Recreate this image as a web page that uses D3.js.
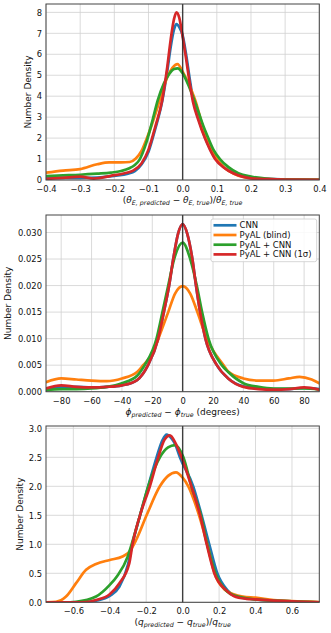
<!DOCTYPE html>
<meta charset="utf-8">
<style>
    body { margin: 0; background: #fff; }
    text { font-family: "DejaVu Sans", sans-serif; fill: #111; }
    .grid line { stroke: #d0d0d0; stroke-width: 0.8px; }
    .frame { fill: none; stroke: #444; stroke-width: 1px; }
    .tick text { font-size: 8.4px; }
</style>
<svg id="chart" width="331" height="633"></svg>
<script src="https://d3js.org/d3.v7.min.js"></script>
<script>

    var seriesNames = ["CNN", "PyAL (blind)", "PyAL + CNN", "PyAL + CNN (1\u03c3)"];
    var colors = ["#1f77b4", "#ff7f0e", "#2ca02c", "#d62728"];

    // panel 1 : fractional error on theta_E
    var thetaCNN = [[-0.4,0.12],[-0.35,0.1],[-0.3,0.1],[-0.25,0.12],[-0.2,0.2],[-0.16,0.3],[-0.14,0.42],[-0.12,0.75],[-0.1,1.35],[-0.08,2.45],[-0.06,3.75],[-0.045,5.2],[-0.035,6.35],[-0.025,7.2],[-0.018,7.44],[-0.01,7.3],[0,6.9],[0.01,6.0],[0.02,4.9],[0.03,3.9],[0.046,2.95],[0.065,2.05],[0.08,1.5],[0.095,1.05],[0.12,0.62],[0.148,0.34],[0.175,0.18],[0.2,0.1],[0.25,0.05],[0.3,0.03],[0.4,0.01]];
    var thetaPyAL = [[-0.4,0.35],[-0.35,0.45],[-0.3,0.52],[-0.25,0.75],[-0.215,0.84],[-0.18,0.84],[-0.155,0.86],[-0.137,1.03],[-0.12,1.4],[-0.107,1.9],[-0.09,2.65],[-0.075,3.4],[-0.06,4.2],[-0.045,4.9],[-0.03,5.35],[-0.015,5.53],[0,5.17],[0.02,4.5],[0.041,3.6],[0.055,2.75],[0.07,2.0],[0.085,1.45],[0.1,1.0],[0.125,0.55],[0.15,0.3],[0.18,0.14],[0.2,0.09],[0.25,0.04],[0.3,0.02],[0.4,0.01]];
    var thetaBoth = [[-0.4,0.19],[-0.35,0.22],[-0.3,0.25],[-0.25,0.3],[-0.21,0.35],[-0.18,0.43],[-0.156,0.56],[-0.14,0.72],[-0.127,0.95],[-0.107,1.75],[-0.088,2.86],[-0.073,3.8],[-0.055,4.6],[-0.04,5.05],[-0.025,5.3],[-0.015,5.33],[0,5.1],[0.02,4.4],[0.04,3.55],[0.06,2.6],[0.075,2.0],[0.09,1.45],[0.109,1.0],[0.135,0.6],[0.163,0.32],[0.2,0.16],[0.25,0.06],[0.3,0.03],[0.4,0.01]];
    var thetaSigma = [[-0.4,0.05],[-0.35,0.1],[-0.3,0.16],[-0.26,0.07],[-0.21,0.2],[-0.17,0.32],[-0.145,0.45],[-0.12,0.8],[-0.1,1.45],[-0.08,2.55],[-0.06,3.8],[-0.045,5.4],[-0.035,6.7],[-0.025,7.7],[-0.018,8.0],[-0.01,7.75],[0,6.84],[0.01,5.8],[0.02,4.7],[0.03,3.75],[0.046,2.86],[0.065,2.0],[0.08,1.45],[0.095,1.0],[0.12,0.6],[0.148,0.32],[0.175,0.16],[0.2,0.08],[0.25,0.04],[0.3,0.02],[0.4,0.01]];

    // panel 2 : error on phi (degrees)
    var phiCNN = [[-90,0.0004],[-80,0.0008],[-70,0.0009],[-60,0.0008],[-50,0.0009],[-40,0.0012],[-30,0.0022],[-22.8,0.005],[-16.1,0.010],[-12.4,0.015],[-8.9,0.020],[-6.2,0.025],[-3,0.0298],[0,0.0316],[3,0.0298],[6.4,0.025],[8.8,0.020],[11.5,0.015],[15,0.010],[22.5,0.005],[30,0.0025],[40,0.001],[50,0.0006],[60,0.0005],[70,0.0005],[80,0.0007],[90,0.0005]];
    var phiPyAL = [[-90,0.0018],[-80,0.0025],[-70,0.0023],[-60,0.0021],[-50,0.002],[-40,0.0025],[-30,0.0037],[-26,0.005],[-20,0.0072],[-16,0.010],[-9.5,0.015],[-5,0.0185],[0,0.0199],[5,0.0185],[9.7,0.015],[15.9,0.010],[20,0.0078],[27,0.005],[30,0.0038],[40,0.0025],[50,0.0021],[60,0.0021],[70,0.0025],[77,0.0028],[85,0.0023],[90,0.0016]];
    var phiBoth = [[-90,0.0003],[-80,0.0005],[-70,0.0005],[-60,0.0006],[-50,0.0009],[-40,0.0016],[-30,0.003],[-25,0.005],[-17.2,0.010],[-13.3,0.015],[-9.5,0.020],[-5.6,0.025],[0,0.0281],[5,0.025],[9.3,0.020],[12.8,0.015],[17,0.010],[25.8,0.005],[30,0.0037],[40,0.0016],[50,0.0009],[60,0.0006],[70,0.0006],[80,0.0006],[90,0.0004]];
    var phiSigma = [[-90,0.0006],[-80,0.0012],[-70,0.0009],[-60,0.0008],[-50,0.0009],[-40,0.0012],[-30,0.0022],[-22.8,0.005],[-16.1,0.010],[-12.4,0.015],[-8.9,0.020],[-6.2,0.025],[-3,0.0298],[0,0.0316],[3,0.0298],[6.4,0.025],[8.8,0.020],[11.5,0.015],[15,0.010],[22.5,0.005],[30,0.0025],[40,0.0009],[50,0.0005],[60,0.0004],[70,0.0005],[80,0.0008],[90,0.0004]];

    // panel 3 : fractional error on q
    var qCNN = [[-0.75,0],[-0.6,0],[-0.53,0.005],[-0.475,0.03],[-0.4,0.11],[-0.347,0.27],[-0.3,0.65],[-0.28,0.95],[-0.234,1.5],[-0.189,2.0],[-0.143,2.5],[-0.11,2.8],[-0.088,2.89],[-0.06,2.82],[-0.04,2.72],[-0.015,2.5],[0.058,2.0],[0.104,1.5],[0.146,1.0],[0.19,0.5],[0.245,0.21],[0.28,0.12],[0.35,0.07],[0.4,0.05],[0.5,0.03],[0.6,0.015],[0.75,0]];
    var qPyAL = [[-0.75,0],[-0.695,0.01],[-0.64,0.1],[-0.585,0.33],[-0.53,0.56],[-0.475,0.66],[-0.4,0.73],[-0.33,0.79],[-0.293,0.87],[-0.256,1.07],[-0.198,1.5],[-0.125,2.0],[-0.08,2.18],[-0.037,2.24],[0,2.15],[0.031,2.0],[0.09,1.5],[0.135,1.0],[0.175,0.5],[0.23,0.22],[0.28,0.14],[0.33,0.1],[0.4,0.08],[0.5,0.04],[0.6,0.02],[0.7,0.01],[0.75,0.005]];
    var qBoth = [[-0.75,0],[-0.65,0],[-0.585,0.01],[-0.475,0.1],[-0.4,0.3],[-0.36,0.45],[-0.3,0.8],[-0.28,1.0],[-0.234,1.5],[-0.189,2.0],[-0.125,2.5],[-0.08,2.67],[-0.042,2.71],[0.004,2.5],[0.048,2.0],[0.1,1.5],[0.135,1.0],[0.18,0.5],[0.24,0.2],[0.28,0.12],[0.4,0.05],[0.5,0.03],[0.6,0.015],[0.75,0]];
    var qSigma = [[-0.75,0],[-0.6,0],[-0.53,0.005],[-0.475,0.04],[-0.4,0.14],[-0.347,0.33],[-0.293,0.67],[-0.275,1.0],[-0.234,1.5],[-0.18,2.0],[-0.134,2.5],[-0.1,2.8],[-0.07,2.88],[-0.04,2.75],[-0.006,2.5],[0.048,2.0],[0.096,1.5],[0.132,1.0],[0.174,0.5],[0.238,0.21],[0.28,0.11],[0.35,0.06],[0.4,0.05],[0.5,0.03],[0.6,0.015],[0.75,0]];

    var thetaXTicks = [-0.4,-0.3,-0.2,-0.1,0,0.1,0.2,0.3,0.4];
    var thetaYTicks = [0,1,2,3,4,5,6,7,8];
    var phiXTicks = [-80,-60,-40,-20,0,20,40,60,80];
    var phiYTicks = [0,0.005,0.01,0.015,0.02,0.025,0.03];
    var qXTicks = [-0.6,-0.4,-0.2,0,0.2,0.4,0.6];
    var qYTicks = [0,0.5,1,1.5,2,2.5,3];

    var svg = d3.select("#chart");

    var panels = [
        {top: 4, bottom: 180, xdom: [-0.4, 0.4], ydom: [0, 8.4],
         xticks: thetaXTicks, yticks: thetaYTicks, xfmt: ".1f", yfmt: "d",
         series: [thetaCNN, thetaPyAL, thetaBoth, thetaSigma], ylabelX: 28, xlabelY: 203,
         xlabel: [["(",0],["\u03b8",1],["E, predicted",2],[" \u2212 ",0],["\u03b8",1],["E, true",2],[")/",0],["\u03b8",1],["E, true",2]]},
        {top: 215, bottom: 391.7, xdom: [-90, 90], ydom: [0, 0.0333],
         xticks: phiXTicks, yticks: phiYTicks, xfmt: "d", yfmt: ".3f",
         series: [phiCNN, phiPyAL, phiBoth, phiSigma], ylabelX: 8, xlabelY: 414.5, legend: true,
         xlabel: [["\u03d5",1],["predicted",2],[" \u2212 ",0],["\u03d5",1],["true",2],[" (degrees)",0]]},
        {top: 426, bottom: 602.3, xdom: [-0.75, 0.75], ydom: [0, 3.04],
         xticks: qXTicks, yticks: qYTicks, xfmt: ".1f", yfmt: ".1f",
         series: [qCNN, qPyAL, qBoth, qSigma], ylabelX: 20, xlabelY: 625,
         xlabel: [["(",0],["q",1],["predicted",2],[" \u2212 ",0],["q",1],["true",2],[")/",0],["q",1],["true",2]]}
    ];

    var left = 46, right = 319.3;

    panels.forEach(function(p, i) {
        var x = d3.scaleLinear().domain(p.xdom).range([left, right]);
        var y = d3.scaleLinear().domain(p.ydom).range([p.bottom, p.top]);
        var g = svg.append("g");

        g.append("clipPath").attr("id", "clip" + i)
            .append("rect")
            .attr("x", left).attr("y", p.top)
            .attr("width", right - left).attr("height", p.bottom - p.top);

        // grid
        var grid = g.append("g").attr("class", "grid");
        grid.selectAll(".vx").data(p.xticks).enter().append("line")
            .attr("x1", d => x(d)).attr("x2", d => x(d))
            .attr("y1", p.top).attr("y2", p.bottom);
        grid.selectAll(".hy").data(p.yticks).enter().append("line")
            .attr("x1", left).attr("x2", right)
            .attr("y1", d => y(d)).attr("y2", d => y(d));

        // axes
        var xAxis = g.append("g")
            .attr("transform", "translate(0," + p.bottom + ")")
            .call(d3.axisBottom(x).tickValues(p.xticks).tickFormat(d3.format(p.xfmt)).tickSize(0).tickPadding(6));
        var yAxis = g.append("g")
            .attr("transform", "translate(" + left + ",0)")
            .call(d3.axisLeft(y).tickValues(p.yticks).tickFormat(d3.format(p.yfmt)).tickSize(0).tickPadding(4));
        xAxis.select(".domain").remove();
        yAxis.select(".domain").remove();
        xAxis.selectAll("text").attr("fill", "#111").style("font-family", "DejaVu Sans");
        yAxis.selectAll("text").attr("fill", "#111").style("font-family", "DejaVu Sans");

        // curves
        var line = d3.line()
            .x(d => x(d[0]))
            .y(d => y(d[1]))
            .curve(d3.curveMonotoneX);

        g.append("g").attr("clip-path", "url(#clip" + i + ")")
            .selectAll("path").data(p.series).enter().append("path")
            .attr("d", line)
            .attr("fill", "none")
            .attr("stroke", (d, k) => colors[k])
            .attr("stroke-width", 2.7)
            .attr("stroke-linejoin", "round")
            .attr("stroke-linecap", "round");

        // zero line
        g.append("line")
            .attr("x1", x(0)).attr("x2", x(0))
            .attr("y1", p.top).attr("y2", p.bottom)
            .attr("stroke", "#222").attr("stroke-opacity", 0.85).attr("stroke-width", 1.4);

        g.append("rect").attr("class", "frame")
            .attr("x", left).attr("y", p.top)
            .attr("width", right - left).attr("height", p.bottom - p.top);

        // labels
        g.append("text")
            .attr("transform", "translate(" + p.ylabelX + "," + (p.top + p.bottom) / 2 + ") rotate(-90)")
            .attr("text-anchor", "middle")
            .attr("dy", "0.35em")
            .style("font-size", "9px")
            .text("Number Density");

        var xl = g.append("text")
            .attr("x", (left + right) / 2)
            .attr("y", p.xlabelY)
            .attr("text-anchor", "middle")
            .style("font-size", "9px");
        var shifted = false;
        p.xlabel.forEach(function(part) {
            var t = xl.append("tspan").text(part[0]);
            if (part[1] === 2) {
                t.attr("dy", shifted ? 0 : 2.2).style("font-size", "6.3px").style("font-style", "italic");
                shifted = true;
            } else {
                if (shifted) { t.attr("dy", -2.2); shifted = false; }
                if (part[1] === 1) t.style("font-style", "italic");
            }
        });

        if (p.legend) {
            var lg = g.append("g").attr("transform", "translate(211,219)");
            lg.append("rect")
                .attr("width", 105.7).attr("height", 42.7)
                .attr("rx", 2)
                .attr("fill", "#fff").attr("fill-opacity", 0.85)
                .attr("stroke", "#ccc").attr("stroke-width", 0.8);
            var row = lg.selectAll(".row").data(seriesNames).enter().append("g")
                .attr("transform", (d, k) => "translate(0," + (6.3 + k * 9.7) + ")");
            row.append("line")
                .attr("x1", 2.5).attr("x2", 25.5)
                .attr("stroke", (d, k) => colors[k])
                .attr("stroke-width", 2.7);
            row.append("text")
                .attr("x", 28.5)
                .attr("dy", "0.35em")
                .style("font-size", "8.5px")
                .text(d => d);
        }
    });

</script>
